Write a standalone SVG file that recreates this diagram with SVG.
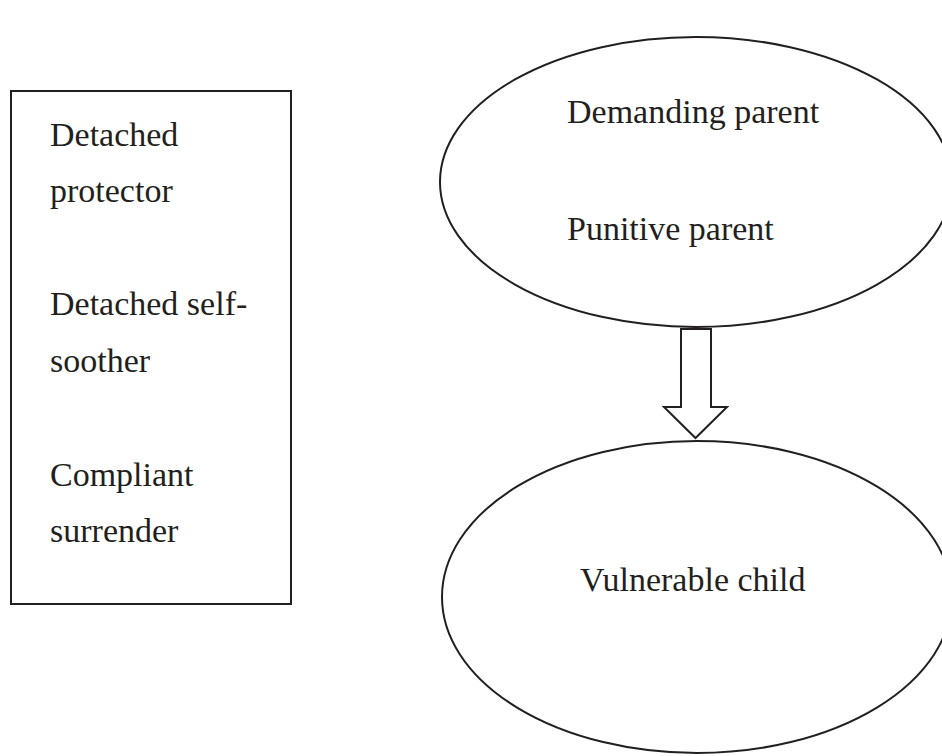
<svg xmlns="http://www.w3.org/2000/svg" width="942" height="756" viewBox="0 0 942 756">
<style>
.s{fill:#fff;stroke:#231f20;stroke-width:2}
text{font-family:"Liberation Serif","Times New Roman",serif;font-size:34px;fill:#231f20}
</style>
<rect width="942" height="756" fill="#fff"/>
<g id="box">
<rect class="s" x="11" y="91" width="280" height="513"/>
<text x="50" y="146">Detached</text>
<text x="50" y="202">protector</text>
<text x="50" y="315">Detached self-</text>
<text x="50" y="372">soother</text>
<text x="50" y="486">Compliant</text>
<text x="50" y="542">surrender</text>
</g>
<g id="parents">
<ellipse class="s" cx="696" cy="182" rx="256" ry="145"/>
<text x="567" y="123">Demanding parent</text>
<text x="567" y="240">Punitive parent</text>
</g>
<g id="child">
<ellipse class="s" cx="697" cy="597" rx="255" ry="156"/>
<text x="580" y="591">Vulnerable child</text>
</g>
<g id="connectors">
<path class="s" d="M681,329 L711,329 L711,407 L727,407 L695.5,438 L664,407 L681,407 Z"/>
</g>
</svg>
